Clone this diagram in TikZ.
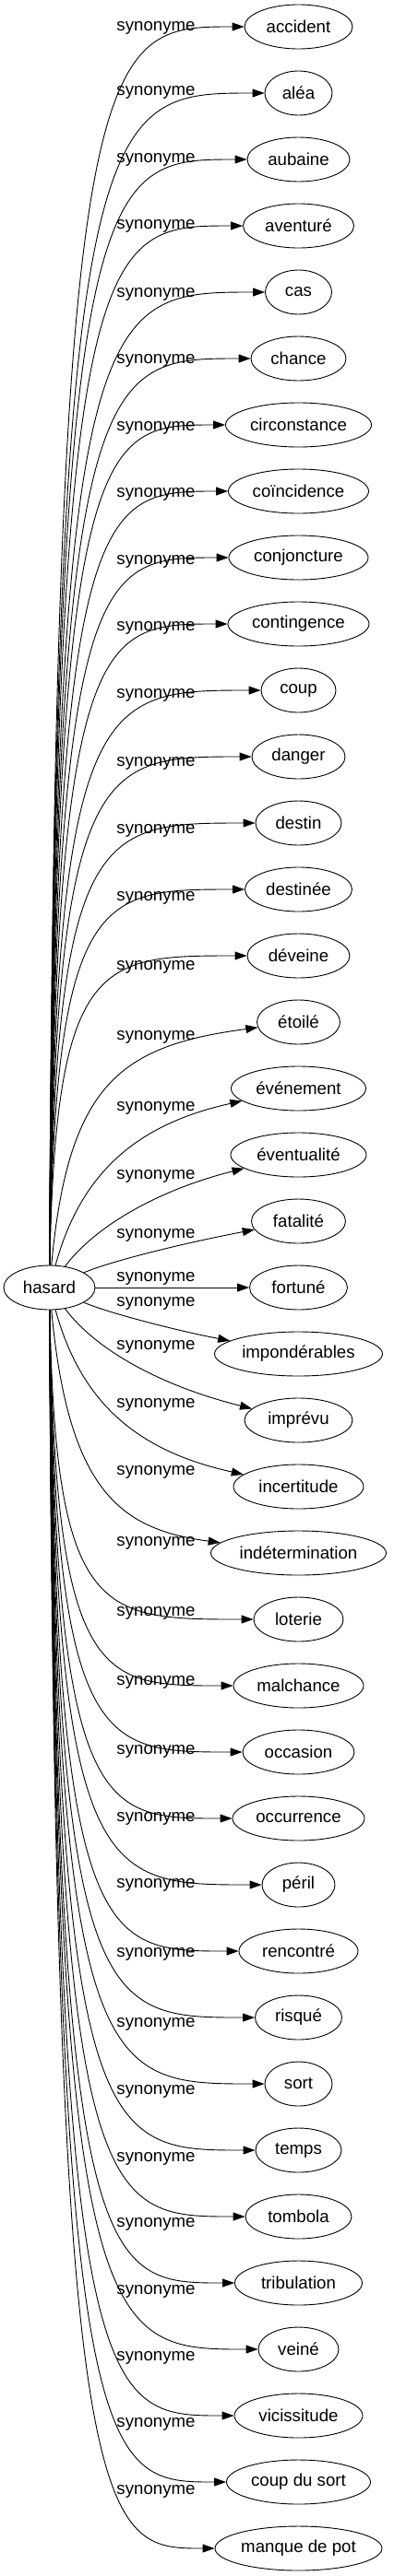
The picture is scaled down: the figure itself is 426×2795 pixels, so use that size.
\documentclass[tikz,border=0pt]{standalone}
\usepackage{fontspec}
\setmainfont{Liberation Sans}
\usetikzlibrary{shapes.geometric, arrows.meta}

\begin{document}
\begin{tikzpicture}[x=1pt, y=-1pt,
    word/.style={ellipse, draw, line width=0.9pt, minimum height=48pt,
                 inner sep=0pt, font=\fontsize{18.67}{20}\selectfont},
    rel/.style={inner sep=0pt, font=\fontsize{18.67}{20}\selectfont},
    arr/.style={-{Triangle[length=13pt, width=9pt]}, line width=0.9pt}
  ]
  \useasboundingbox (0,0) rectangle (426,2795);

  \node[word, minimum width=99] (hasard) at (53.5,1397) {hasard};

  % one synonym per row, name/text/ellipse width/label row
  \foreach \nm/\txt/\ew/\ly [count=\i from 0] in {
      accident/accident/117/30, alea/aléa/73/100, aubaine/aubaine/111/173,
      aventure/aventuré/120/245, cas/cas/72/319, chance/chance/103/391,
      circonstance/circonstance/158/464, coincidence/coïncidence/152/536,
      conjoncture/conjoncture/151/609, contingence/contingence/153/681,
      coup/coup/81/754, danger/danger/101/828, destin/destin/93/901,
      destinee/destinée/116/974, deveine/déveine/111/1049,
      etoile/étoilé/90/1125, evenement/événement/146/1202,
      eventualite/éventualité/147/1276, fatalite/fatalité/102/1340,
      fortune/fortuné/106/1387, imponderables/impondérables/182/1414,
      imprevu/imprévu/117/1461, incertitude/incertitude/141/1524,
      indetermination/indétermination/190/1597, loterie/loterie/97/1674,
      malchance/malchance/141/1750, occasion/occasion/121/1825,
      occurrence/occurrence/143/1900, peril/péril/79/1973,
      rencontre/rencontré/129/2045, risque/risqué/94/2120,
      sort/sort/73/2196, temps/temps/93/2269, tombola/tombola/115/2342,
      tribulation/tribulation/138/2413, veine/veiné/87/2486,
      vicissitude/vicissitude/139/2558, coupdusort/coup du sort/156/2630,
      manquedepot/manque de pot/181/2703}
  {
    \pgfmathsetmacro\ty{29+72*\i}
    \node[word, minimum width=\ew] (\nm) at (323.5,\ty) {\txt};
    \node[rel] (lab\i) at (169,\ly) {synonyme};
    % bend of the edge: steep near hasard, flat near the synonym
    \pgfmathsetmacro\dd{abs(\ty-1397)}
    \pgfmathsetmacro\f{min(1,\dd/360)}
    \pgfmathsetmacro\sg{\ty<1397 ? -1 : 1}
    \pgfmathsetmacro\ax{60+70*(1-\f)}
    \pgfmathsetmacro\ay{1397+\sg*(0.35+0.65*\f*\f)*\dd}
    \pgfmathsetmacro\bx{110+100*(1-\f)}
    \pgfmathsetmacro\by{\ty-\sg*160*\f*(1-\f)}
    \draw[arr] (hasard) .. controls (\ax,\ay) and (\bx,\by) .. (\nm);
  }
\end{tikzpicture}
\end{document}
